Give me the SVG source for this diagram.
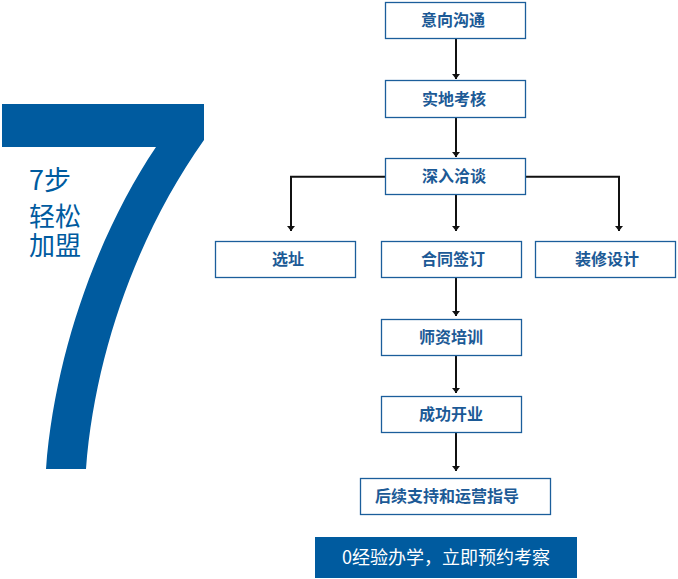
<svg xmlns="http://www.w3.org/2000/svg" width="678" height="579" viewBox="0 0 678 579">
<defs>
<style>
.box{fill:#fff;stroke:#1b5e9b;stroke-width:1.3}
.bt{font-family:"Noto Sans CJK SC","Noto Sans",sans-serif;font-weight:bold;font-size:16px;fill:#1c5a96;text-anchor:middle}
.con{stroke:#111;stroke-width:2;fill:none}
.side{font-family:"Noto Sans CJK SC","Noto Sans",sans-serif;font-size:26px;fill:#005b9f}
</style>
<marker id="ah" markerUnits="userSpaceOnUse" markerWidth="10" markerHeight="10" refX="5" refY="4" orient="auto" viewBox="0 0 10 8">
<path d="M0,0 L5,4 L0,8 z" fill="#111"/>
</marker>
</defs>
<rect width="678" height="579" fill="#fff"/>
<g id="seven">
<path d="M2,104 H204 V140 C140,230 95,350 86,469 H46 C55,350 100,230 156,147 H2 z" fill="#005b9f"/>
<text class="side"><tspan x="29" y="190" font-size="27">7步</tspan><tspan x="29" y="225.5">轻松</tspan><tspan x="29" y="254.5">加盟</tspan></text>
</g>
<g id="connectors">
<line class="con" x1="456" y1="38.5" x2="456" y2="79" marker-end="url(#ah)"/>
<line class="con" x1="456" y1="117.5" x2="456" y2="157" marker-end="url(#ah)"/>
<line class="con" x1="456" y1="194.5" x2="456" y2="231" marker-end="url(#ah)"/>
<polyline class="con" points="385,176.7 291,176.7 291,231" marker-end="url(#ah)"/>
<polyline class="con" points="526,176.7 619,176.7 619,231" marker-end="url(#ah)"/>
<line class="con" x1="456" y1="277.5" x2="456" y2="316" marker-end="url(#ah)"/>
<line class="con" x1="456" y1="355.5" x2="456" y2="393" marker-end="url(#ah)"/>
<line class="con" x1="456" y1="432.5" x2="456" y2="471" marker-end="url(#ah)"/>
</g>
<g id="n1"><rect class="box" x="385.5" y="2.5" width="140" height="36"/><text class="bt" x="453" y="26">意向沟通</text></g>
<g id="n2"><rect class="box" x="385.5" y="80.5" width="140" height="37"/><text class="bt" x="454" y="104.5">实地考核</text></g>
<g id="n3"><rect class="box" x="385.5" y="158.5" width="140" height="36"/><text class="bt" x="454" y="182">深入洽谈</text></g>
<g id="n4"><rect class="box" x="215.5" y="241.5" width="140" height="36"/><text class="bt" x="288" y="265">选址</text></g>
<g id="n5"><rect class="box" x="381.5" y="241.5" width="140" height="36"/><text class="bt" x="453" y="265">合同签订</text></g>
<g id="n6"><rect class="box" x="535.5" y="241.5" width="140" height="36"/><text class="bt" x="607" y="265">装修设计</text></g>
<g id="n7"><rect class="box" x="381.5" y="319.5" width="140" height="36"/><text class="bt" x="451" y="343">师资培训</text></g>
<g id="n8"><rect class="box" x="381.5" y="396.5" width="140" height="36"/><text class="bt" x="451" y="420">成功开业</text></g>
<g id="n9"><rect class="box" x="360.5" y="478.5" width="190" height="36"/><text class="bt" x="447" y="502">后续支持和运营指导</text></g>
<g id="cta">
<rect x="315" y="537" width="262" height="41" fill="#005b9f"/>
<text x="446" y="564" font-family="'Noto Sans CJK SC','Noto Sans',sans-serif" font-size="18" fill="#fff" text-anchor="middle">0经验办学，立即预约考察</text>
</g>
</svg>
